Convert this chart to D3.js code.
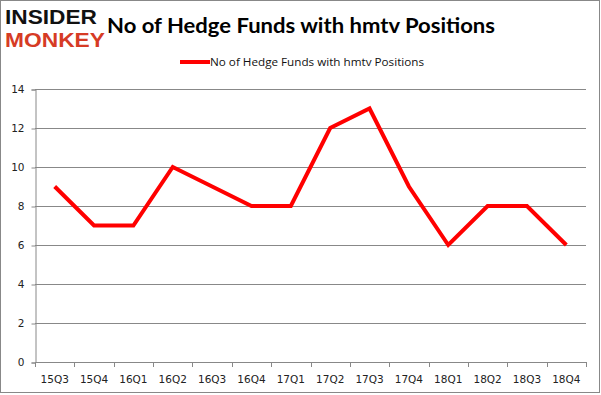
<!DOCTYPE html>
<html>
<head>
<meta charset="utf-8">
<script src="https://cdn.jsdelivr.net/npm/d3@7"></script>
<style>
  body { margin: 0; background: #fff; }
  svg { display: block; }
</style>
</head>
<body>
<div id="chart"></div>
<script>
var quarters = ["15Q3", "15Q4", "16Q1", "16Q2", "16Q3", "16Q4", "17Q1", "17Q2", "17Q3", "17Q4", "18Q1", "18Q2", "18Q3", "18Q4"];
var funds = [9, 7, 7, 10, 9, 8, 8, 12, 13, 9, 6, 8, 8, 6];
var yTicks = [0, 2, 4, 6, 8, 10, 12, 14];
var seriesName = "No of Hedge Funds with hmtv Positions";

function init() {
    var width = 601;
    var height = 395;

    var svg = d3.select("#chart")
                .append("svg")
                .attr("width", width)
                .attr("height", height);

    // outer frame
    svg.append("rect")
        .attr("x", 0.5).attr("y", 0.5)
        .attr("width", width - 2).attr("height", height - 3)
        .attr("fill", "#fff")
        .attr("stroke", "#888");

    var xScale = d3.scaleBand()
                    .domain(quarters)
                    .range([35, 586]);

    var yScale = d3.scaleLinear()
                    .domain([0, 14])
                    .range([362, 89]);

    // gridlines
    svg.append("g")
        .selectAll("line")
        .data(yTicks.slice(1))
        .enter()
        .append("line")
        .attr("x1", 35).attr("x2", 586)
        .attr("y1", function(d) { return Math.round(yScale(d)) + 0.5; })
        .attr("y2", function(d) { return Math.round(yScale(d)) + 0.5; })
        .attr("stroke", "#888");

    var yAxis = d3.axisLeft(yScale)
                .tickValues(yTicks)
                .tickSize(4)
                .tickPadding(7);

    var xAxis = d3.axisBottom(xScale)
                .tickSize(0)
                .tickPadding(13);

    var gy = svg.append("g")
        .attr("transform", "translate(35.5, 0.5)")
        .call(yAxis);

    var gx = svg.append("g")
        .attr("transform", "translate(0, 362.5)")
        .call(xAxis);

    // x ticks sit between categories
    svg.append("g")
        .selectAll("line")
        .data(d3.range(quarters.length + 1))
        .enter()
        .append("line")
        .attr("x1", function(i) { return Math.round(35 + i * xScale.step()) + 0.5; })
        .attr("x2", function(i) { return Math.round(35 + i * xScale.step()) + 0.5; })
        .attr("y1", 362).attr("y2", 367)
        .attr("stroke", "#888");

    [gx, gy].forEach(function(g) {
        g.select(".domain").attr("stroke", "#888");
        g.selectAll(".tick line").attr("stroke", "#888");
        g.selectAll("text")
            .attr("fill", "#222")
            .style("font-family", "'DejaVu Sans', sans-serif")
            .style("font-size", "10.5px");
    });
    gx.select(".domain").attr("d", "M35,0H586");

    // the series line
    var line = d3.line()
        .x(function(d, i) { return xScale(quarters[i]) + xScale.bandwidth() / 2; })
        .y(function(d) { return yScale(d); });

    svg.append("path")
        .datum(funds)
        .attr("d", line)
        .attr("fill", "none")
        .attr("stroke", "#ff0000")
        .attr("stroke-width", 4)
        .attr("stroke-linejoin", "miter");

    // title
    svg.append("text")
        .attr("x", 107).attr("y", 33)
        .attr("textLength", 388)
        .attr("lengthAdjust", "spacingAndGlyphs")
        .style("font-family", "Lato, 'Open Sans', sans-serif")
        .style("font-weight", "bold")
        .style("font-size", "21px")
        .attr("fill", "#000")
        .text(seriesName);

    // legend
    svg.append("line")
        .attr("x1", 180).attr("x2", 210)
        .attr("y1", 62).attr("y2", 62)
        .attr("stroke", "#ff0000")
        .attr("stroke-width", 4);

    svg.append("text")
        .attr("x", 210).attr("y", 66)
        .attr("textLength", 214)
        .attr("lengthAdjust", "spacingAndGlyphs")
        .style("font-family", "'Open Sans', sans-serif")
        .style("font-size", "11.5px")
        .attr("fill", "#111")
        .text(seriesName);

    // logo
    svg.append("text")
        .attr("x", 5).attr("y", 24)
        .attr("textLength", 92)
        .attr("lengthAdjust", "spacingAndGlyphs")
        .style("font-family", "'Liberation Sans', Arial, sans-serif")
        .style("font-weight", "bold")
        .style("font-size", "20px")
        .attr("fill", "#111")
        .text("INSIDER");

    svg.append("text")
        .attr("x", 5).attr("y", 47)
        .attr("textLength", 100)
        .attr("lengthAdjust", "spacingAndGlyphs")
        .style("font-family", "'Liberation Sans', Arial, sans-serif")
        .style("font-weight", "bold")
        .style("font-size", "20px")
        .attr("fill", "#d63b25")
        .text("MONKEY");
}

window.onload = init;
</script>
</body>
</html>
